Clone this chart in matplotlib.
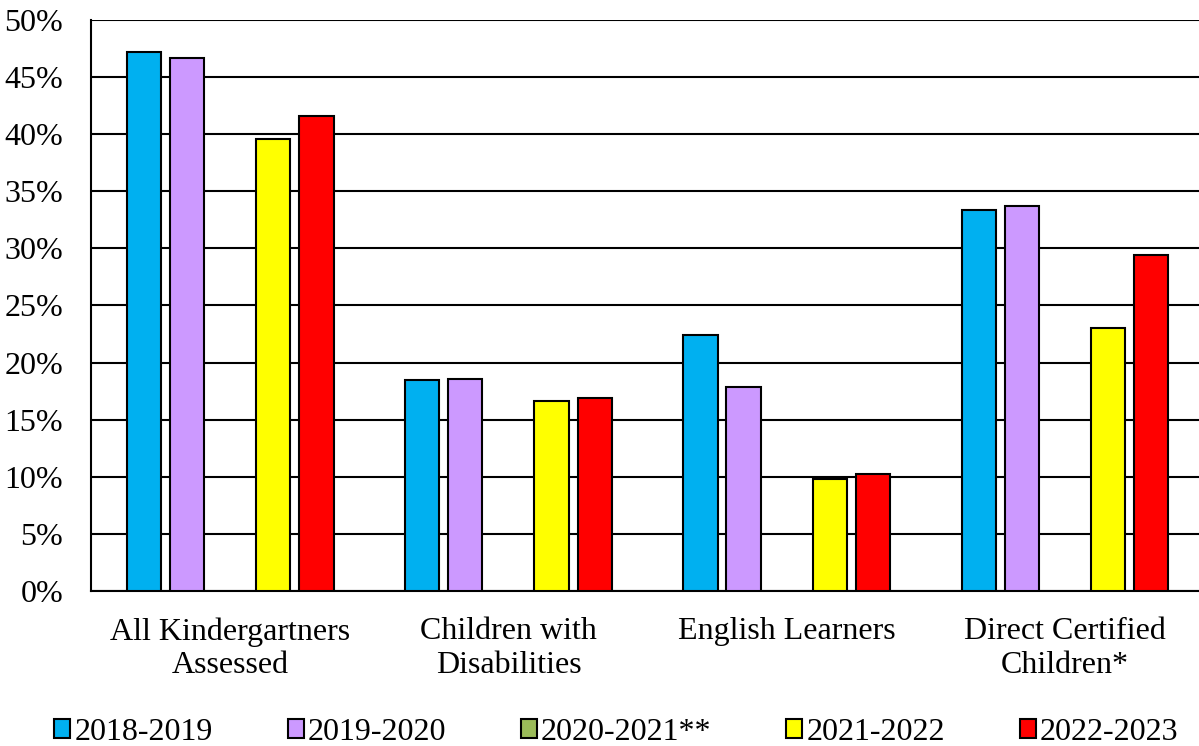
import numpy as np
import matplotlib.pyplot as plt
from matplotlib.ticker import PercentFormatter

plt.rcParams['font.family'] = ['Liberation Serif', 'DejaVu Serif']

# data (percent); 2020-2021 has no data
categories = ['All Kindergartners\nAssessed', 'Children with\nDisabilities',
              'English Learners', 'Direct Certified\nChildren*']
years = ['2018-2019', '2019-2020', '2020-2021**', '2021-2022', '2022-2023']
v_2018 = [47.2, 18.5, 22.4, 33.4]
v_2019 = [46.7, 18.6, 17.9, 33.7]
v_2020 = [np.nan, np.nan, np.nan, np.nan]
v_2021 = [39.6, 16.6, 9.8, 23.0]
v_2022 = [41.6, 16.9, 10.2, 29.4]
series = [v_2018, v_2019, v_2020, v_2021, v_2022]
colors = ['#00B0F0', '#CC99FF', '#9BBB59', '#FFFF00', '#FF0000']

fig = plt.figure(figsize=(11.99, 7.46), dpi=100)
ax = fig.add_axes([0.0759, 0.2078, 0.9283, 0.7654])

x = np.arange(len(categories))
width = 0.123
step = 0.155
for i, (vals, col, lab) in enumerate(zip(series, colors, years)):
    ax.bar(x + (i - 2) * step, vals, width, color=col, edgecolor='black',
           linewidth=1.5, label=lab, zorder=3)

ax.set_ylim(0, 50)
ax.set_xlim(-0.5, len(categories) - 0.5)
ax.set_yticks(np.arange(0, 51, 5))
ax.yaxis.set_major_formatter(PercentFormatter(decimals=0))
ax.grid(axis='y', color='black', linewidth=1.5, zorder=0)
ax.set_xticks(x)
ax.set_xticklabels(categories, linespacing=1.2)
ax.tick_params(axis='both', length=0, labelsize=23)
ax.tick_params(axis='y', pad=20)
ax.tick_params(axis='x', pad=19)
for s in ['top', 'right']:
    ax.spines[s].set_visible(False)
ax.spines['left'].set_linewidth(1.5)
ax.spines['bottom'].set_linewidth(1.5)

fig.legend(loc='lower center', bbox_to_anchor=(0.514, -0.04), ncol=5,
           frameon=False, fontsize=23, handlelength=0.5, handleheight=0.55,
           handletextpad=0.12, columnspacing=2.35)

fig.savefig('out.png', dpi=100)
